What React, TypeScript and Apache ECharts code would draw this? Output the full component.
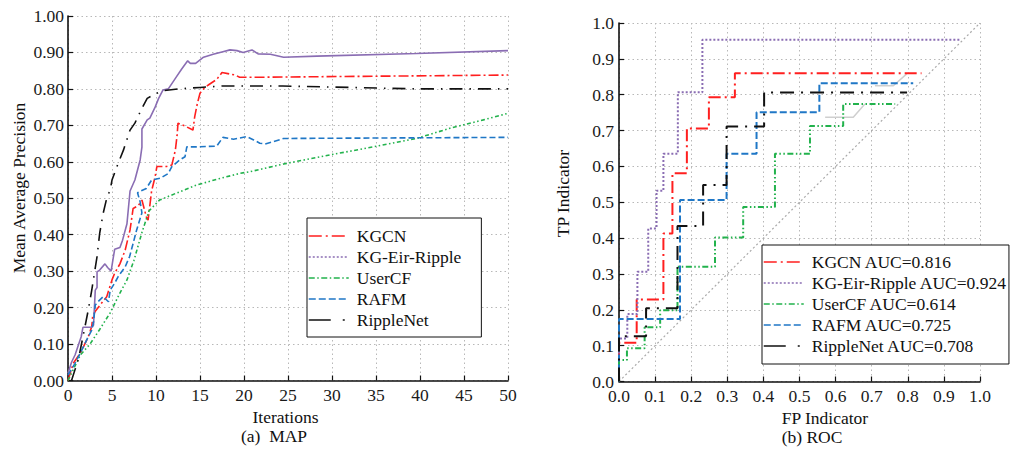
import React, { useEffect, useRef } from "react";
import * as echarts from "echarts";

const FONT = '"Liberation Serif", "Times New Roman", serif';

// ---------- (a) MAP data: [iteration, MAP] ----------
const mapNames = ["KGCN", "KG-Eir-Ripple", "UserCF", "RAFM", "RippleNet"];
const mapKGCN = [[0,0],[0.6,0.047],[1.4,0.075],[1.9,0.1],[2.3,0.12],[2.7,0.148],[2.8,0.175],[3.1,0.19],[3.8,0.212],[4.4,0.23],[5.0,0.276],[5.3,0.294],[5.9,0.32],[6.5,0.358],[7.05,0.413],[7.4,0.472],[8.0,0.48],[8.4,0.495],[8.9,0.449],[9.1,0.44],[9.5,0.52],[9.9,0.559],[10.1,0.587],[11.2,0.587],[11.8,0.591],[12.2,0.632],[12.4,0.673],[12.5,0.706],[13.3,0.698],[14.2,0.687],[14.4,0.724],[14.7,0.76],[15.0,0.788],[15.4,0.8],[15.9,0.81],[16.9,0.826],[17.5,0.845],[19.0,0.838],[19.5,0.832],[21.8,0.832],[50,0.838]];
const mapKGEir = [[0,0.02],[0.4,0.05],[0.8,0.07],[1.5,0.12],[1.7,0.146],[2.7,0.146],[2.9,0.152],[3.1,0.248],[3.3,0.255],[3.3,0.298],[3.6,0.303],[4.2,0.32],[4.5,0.31],[4.9,0.3],[5.1,0.33],[5.3,0.36],[5.9,0.365],[6.2,0.385],[6.7,0.43],[7.05,0.52],[7.6,0.55],[8.2,0.605],[8.4,0.64],[8.4,0.69],[9.0,0.715],[9.3,0.72],[9.9,0.75],[10.3,0.774],[10.8,0.797],[11.4,0.8],[12.2,0.829],[12.9,0.854],[13.6,0.877],[13.9,0.87],[14.5,0.87],[15.4,0.887],[16.5,0.895],[17.6,0.902],[18.4,0.907],[19.2,0.905],[19.9,0.9],[20.9,0.907],[21.6,0.896],[23.0,0.895],[24.5,0.887],[28.3,0.89],[39.6,0.897],[50,0.905]];
const mapUserCF = [[0,0],[1.4,0.07],[2.5,0.1],[3.6,0.14],[4.8,0.186],[5.9,0.24],[6.7,0.276],[7.5,0.33],[8.4,0.406],[9.2,0.465],[10.4,0.495],[12.2,0.513],[14.6,0.536],[16.9,0.552],[19.5,0.568],[20.7,0.573],[24.5,0.594],[29.8,0.619],[34.7,0.641],[39.6,0.664],[43.4,0.692],[47.2,0.715],[50,0.733]];
const mapRAFM = [[0,0.015],[0.8,0.047],[1.4,0.075],[1.9,0.1],[2.3,0.12],[2.7,0.138],[2.9,0.161],[3.1,0.207],[3.4,0.216],[4.0,0.23],[4.6,0.216],[4.8,0.248],[5.3,0.267],[5.7,0.285],[6.5,0.312],[7.0,0.34],[7.4,0.376],[7.8,0.413],[8.4,0.46],[8.2,0.49],[7.9,0.515],[8.3,0.52],[8.9,0.527],[9.5,0.55],[10.5,0.555],[11.4,0.568],[11.8,0.587],[12.7,0.605],[13.3,0.614],[13.5,0.641],[14.6,0.641],[16.9,0.643],[17.6,0.667],[18.8,0.662],[20.3,0.669],[21.1,0.66],[21.8,0.651],[22.4,0.649],[23.3,0.655],[24.5,0.664],[50,0.667]];
const mapRipple = [[0.4,0],[1.2,0.06],[1.7,0.12],[2.3,0.193],[2.7,0.248],[3.3,0.34],[3.6,0.404],[4.0,0.459],[4.4,0.5],[4.8,0.523],[5.0,0.55],[5.7,0.596],[6.3,0.632],[7.05,0.687],[7.6,0.706],[8.4,0.747],[9.0,0.774],[9.9,0.786],[10.8,0.795],[12.5,0.8],[15.0,0.804],[17.6,0.808],[24.4,0.808],[32.0,0.804],[39.6,0.8],[50,0.8]];

// ---------- (b) ROC data: [FP, TP] ----------
const rocNames = ["KGCN AUC=0.816", "KG-Eir-Ripple AUC=0.924", "UserCF AUC=0.614", "RAFM AUC=0.725", "RippleNet AUC=0.708"];
const rocKGCN = [[0,0],[0,0.108],[0.049,0.108],[0.049,0.229],[0.123,0.229],[0.123,0.413],[0.148,0.413],[0.148,0.581],[0.188,0.581],[0.188,0.706],[0.249,0.706],[0.249,0.793],[0.321,0.793],[0.321,0.86],[0.838,0.86]];
const rocKGEir = [[0,0],[0,0.12],[0.023,0.12],[0.023,0.188],[0.051,0.188],[0.051,0.306],[0.081,0.306],[0.081,0.427],[0.104,0.427],[0.104,0.532],[0.123,0.532],[0.123,0.635],[0.163,0.635],[0.163,0.807],[0.231,0.807],[0.231,0.953],[0.945,0.953]];
const rocUserCF = [[0,0],[0,0.06],[0.022,0.06],[0.022,0.093],[0.071,0.093],[0.071,0.151],[0.114,0.151],[0.114,0.199],[0.162,0.199],[0.162,0.32],[0.266,0.32],[0.266,0.402],[0.344,0.402],[0.344,0.487],[0.432,0.487],[0.432,0.635],[0.529,0.635],[0.529,0.713],[0.621,0.713],[0.621,0.774],[0.765,0.774]];
const rocRAFM = [[0,0],[0,0.174],[0.169,0.174],[0.169,0.506],[0.298,0.506],[0.298,0.635],[0.381,0.635],[0.381,0.751],[0.555,0.751],[0.555,0.832],[0.815,0.832]];
const rocRipple = [[0,0],[0,0.126],[0.075,0.126],[0.075,0.204],[0.162,0.204],[0.162,0.434],[0.233,0.434],[0.233,0.548],[0.298,0.548],[0.298,0.711],[0.402,0.711],[0.402,0.806],[0.798,0.806]];
const rocDiagonal = [[0,0],[1,1]];
const rocFaintA = [[0.571,0.737],[0.649,0.737],[0.681,0.774]];
const rocFaintB = [[0.709,0.825],[0.76,0.825],[0.797,0.858]];

const colors = ["#ff1f1f", "#8a6db3", "#22b24c", "#1f77c6", "#111111"];
const mapDash: any[] = [[10, 3, 2, 3], "solid", [4, 2.5, 1.5, 2.5, 1.5, 2.5], [6, 3], [13, 7, 1.5, 7]];
const rocDash: any[] = [[12, 4, 2, 4], [2, 2], [6, 2.5, 1.5, 2.5, 1.5, 2.5], [7, 3], [14, 7, 2, 7]];
const legendDash: any[] = [[13, 4, 2, 4], [2, 2], [6, 2.5, 1.5, 2.5], [7, 3], [22, 12, 2, 10]];

function axisCommon() {
  return {
    type: "value" as const,
    axisLine: { show: true, onZero: false, lineStyle: { color: "#111", width: 1.6 } },
    axisTick: { show: true, inside: true, length: 5, lineStyle: { color: "#111", width: 1.2 } },
    splitLine: { show: true, lineStyle: { color: "#b8b8b8", width: 1, type: [1.5, 3] } },
  };
}

function labelStyle(margin: number, fmt: (v: number) => string) {
  return { fontFamily: FONT, fontSize: 17.5, color: "#1a1a1a", margin, formatter: fmt };
}

function legendCfg(names: string[], left: number, top: number, padding: number[]) {
  return {
    data: names.map((n, i) => ({ name: n, lineStyle: { type: legendDash[i], width: 1.5 }, itemStyle: { opacity: 0 } })),
    orient: "vertical",
    left,
    top,
    padding,
    itemWidth: 40,
    itemHeight: 14,
    itemGap: 3,
    borderColor: "#111",
    borderWidth: 1,
    backgroundColor: "#fff",
    selectedMode: false,
    textStyle: { fontFamily: FONT, fontSize: 17.5, color: "#111", lineHeight: 17.6, padding: [0, 0, 0, 3] },
  };
}

function txt(text: string, x: number, y: number, rotation = 0, align = "center") {
  return {
    type: "text",
    x,
    y,
    rotation,
    silent: true,
    style: {
      text,
      fontFamily: FONT,
      fontSize: 17.5,
      fill: "#111",
      align,
      verticalAlign: "middle",
      textAlign: align,
      textVerticalAlign: "middle",
    },
  };
}

export default function App() {
  const ref = useRef<HTMLDivElement>(null);
  useEffect(() => {
    if (!ref.current) return;
    const chart = echarts.init(ref.current, undefined, { renderer: "svg" });
    const mapData = [mapKGCN, mapKGEir, mapUserCF, mapRAFM, mapRipple];
    const rocData = [rocKGCN, rocKGEir, rocUserCF, rocRAFM, rocRipple];
    const series: any[] = [];
    mapNames.forEach((n, i) => {
      series.push({
        name: n,
        type: "line",
        xAxisIndex: 0,
        yAxisIndex: 0,
        data: mapData[i],
        symbol: "none",
        showSymbol: false,
        color: colors[i],
        lineStyle: { color: colors[i], width: 1.6, type: mapDash[i] },
        silent: true,
        z: 3 + i,
      });
    });
    series.push({
      name: "diag",
      type: "line",
      xAxisIndex: 1,
      yAxisIndex: 1,
      data: rocDiagonal,
      symbol: "none",
      color: "#aaa",
      lineStyle: { color: "#aaa", width: 1.2, type: [2, 2.5] },
      silent: true,
      z: 2,
    });
    [rocFaintA, rocFaintB].forEach((d, k) => {
      series.push({
        name: "faint" + k,
        type: "line",
        xAxisIndex: 1,
        yAxisIndex: 1,
        data: d,
        symbol: "none",
        color: "#cfcfcf",
        lineStyle: { color: "#cfcfcf", width: 1.5 },
        silent: true,
        z: 2,
      });
    });
    rocNames.forEach((n, i) => {
      series.push({
        name: n,
        type: "line",
        xAxisIndex: 1,
        yAxisIndex: 1,
        data: rocData[i],
        symbol: "none",
        showSymbol: false,
        color: colors[i],
        lineStyle: { color: colors[i], width: 2, type: rocDash[i] },
        silent: true,
        z: 3 + i,
      });
    });

    const option: any = {
      animation: false,
      backgroundColor: "#fff",
      grid: [
        { left: 68, top: 16, width: 440, height: 364.5 },
        { left: 619, top: 23, width: 361, height: 358.5 },
      ],
      xAxis: [
        { ...axisCommon(), gridIndex: 0, min: 0, max: 50, interval: 5, axisLabel: labelStyle(5, (v: number) => String(v)) },
        { ...axisCommon(), gridIndex: 1, min: 0, max: 1, interval: 0.1, axisLabel: labelStyle(5, (v: number) => v.toFixed(1)) },
      ],
      yAxis: [
        { ...axisCommon(), gridIndex: 0, min: 0, max: 1, interval: 0.1, axisLabel: labelStyle(4, (v: number) => v.toFixed(2)) },
        { ...axisCommon(), gridIndex: 1, min: 0, max: 1, interval: 0.1, axisLabel: labelStyle(5, (v: number) => v.toFixed(1)) },
      ],
      legend: [
        legendCfg(mapNames, 307, 218, [9, 20, 8, 1]),
        legendCfg(rocNames, 762, 245, [8, 2, 9, 1]),
      ],
      graphic: [
        txt("Mean Average Precision", 18.5, 188, Math.PI / 2),
        txt("Iterations", 285.5, 417),
        txt("(a)  MAP", 274, 436),
        txt("TP Indicator", 563, 193.5, Math.PI / 2),
        txt("FP Indicator", 825, 418),
        txt("(b) ROC", 812, 437),
      ],
      series,
    };
    chart.setOption(option);
    return () => chart.dispose();
  }, []);
  return (
    <div
      ref={ref}
      style={{ position: "absolute", left: 0, top: 0, width: 1011, height: 450, background: "#fff" }}
    />
  );
}
